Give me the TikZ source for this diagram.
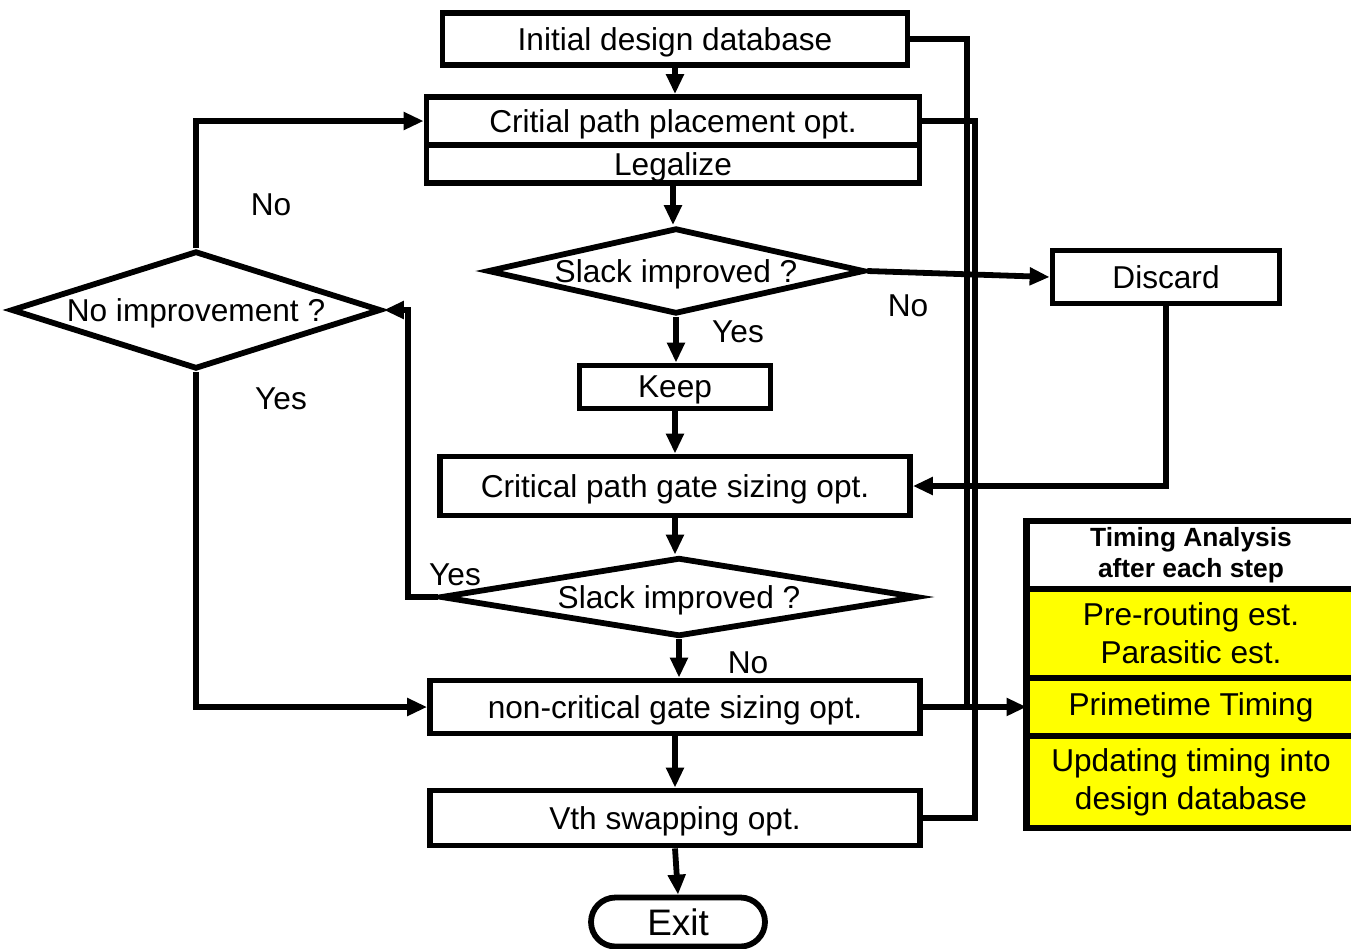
\documentclass[tikz,border=0pt]{standalone}
\usepackage{fontspec}
\setmainfont{Liberation Sans}
\usepackage{xcolor}
\usepackage{tikz}
\usetikzlibrary{arrows.meta, positioning, shapes.geometric, shapes.misc}
\definecolor{clrYellow}{HTML}{FFFF00}
\definecolor{clrLine}{HTML}{000000}
\tikzset{
  flow box/.style={rectangle, draw=clrLine, line width=3.3pt, fill=white, inner sep=0pt, text depth=0pt, font=\fontsize{18}{21}\selectfont},
  flow test/.style={diamond, draw=clrLine, line width=3.3pt, fill=white, inner sep=0pt, text depth=0pt, font=\fontsize{18}{21}\selectfont},
  flow end/.style={rounded rectangle, draw=clrLine, line width=3.3pt, fill=white, inner sep=0pt, text depth=0pt, font=\fontsize{21}{24}\selectfont},
  ta head/.style={rectangle, draw=clrLine, line width=3.6pt, fill=white, minimum width=6.58cm, outer sep=0pt, align=center, font=\bfseries\fontsize{15}{18}\selectfont},
  ta step/.style={ta head, fill=clrYellow, font=\fontsize{18}{21.6}\selectfont},
  flow label/.style={font=\fontsize{18}{21}\selectfont},
  arr/.style={-{Triangle[length=0.4cm, width=0.34cm]}, line width=3.3pt},
  wire/.style={line width=3.3pt},
}

\begin{document}
\begin{tikzpicture}[x=0.02cm, y=-0.02cm]
  \useasboundingbox (0,0) rectangle (1351,948);

  % Main flow
  \node[flow box, minimum width=9.3cm, minimum height=1.04cm] (init) at (675,39) {Initial design database};
  \node[flow box, minimum width=9.86cm, minimum height=0.96cm] (place) at (673,121) {Critial path placement opt.};
  \node[flow box, minimum width=9.86cm, minimum height=0.76cm] (legal) at (673,164) {Legalize};
  \node[flow test, aspect=4.3, minimum width=7.54cm, minimum height=1.72cm] (slackA) at (676,271) {Slack improved ?};
  \node[flow box, minimum width=4.54cm, minimum height=1.06cm] (discard) at (1166,277) {Discard};
  \node[flow box, minimum width=3.82cm, minimum height=0.86cm] (keep) at (675,387) {Keep};
  \node[flow box, minimum width=9.4cm, minimum height=1.18cm] (gsize) at (675,486) {Critical path gate sizing opt.};
  \node[flow test, aspect=7.5, minimum width=9.54cm, minimum height=1.58cm] (slackB) at (679,597) {Slack improved ?};
  \node[flow box, minimum width=9.8cm, minimum height=1.06cm] (ncgs) at (675,707) {non-critical gate sizing opt.};
  \node[flow box, minimum width=9.8cm, minimum height=1.1cm] (vth) at (675,818) {Vth swapping opt.};
  \node[flow end, minimum width=3.48cm, minimum height=0.98cm] (exit) at (678,922) {Exit};
  \node[flow test, aspect=3.6, minimum width=7.4cm, minimum height=2.36cm] (noimp) at (196,310) {No improvement ?};

  % Timing analysis
  \node[ta head, minimum height=1.32cm] (tahead) at (1191,555) {Timing Analysis\\after each step};
  \node[ta step, minimum height=1.78cm, below=0pt of tahead] (tapre) {Pre-routing est.\\Parasitic est.};
  \node[ta step, minimum height=1.16cm, below=0pt of tapre] (taprime) {Primetime Timing};
  \node[ta step, minimum height=1.84cm, below=0pt of taprime] (taupd) {Updating timing into\\design database};

  % Labels
  \node[flow label] (noA) at (271,205) {No};
  \node[flow label] (yesA) at (281,399) {Yes};
  \node[flow label] (yesB) at (738,332) {Yes};
  \node[flow label] (noB) at (908,306) {No};
  \node[flow label] (yesC) at (455,575) {Yes};
  \node[flow label] (noC) at (748,663) {No};

  % Transitions
  \draw[arr] (init.south) -- (init.south |- place.north);
  \draw[arr] (legal.south) -- (legal.south |- slackA.north);
  \draw[arr] (slackA.south) -- (slackA.south |- keep.north);
  \draw[arr] (keep.south) -- (keep.south |- gsize.north);
  \draw[arr] (gsize.south) -- (gsize.south |- slackB.north);
  \draw[arr] (slackB.south) -- (slackB.south |- ncgs.north);
  \draw[arr] (ncgs.south) -- (ncgs.south |- vth.north);
  \draw[arr] (vth.south) -- (exit.north);
  \draw[arr] (slackA.east) -- (discard.west);
  \draw[arr] (discard.south) |- (gsize.east);
  \coordinate (yesturn) at (408,310);
  \draw[arr] (slackB.west) -| (yesturn) -- (noimp.east);
  \draw[arr] (noimp.north) |- (place.west);
  \draw[arr] (noimp.south) |- (ncgs.west);

  % Timing bus
  \coordinate (busA) at (967,707);
  \coordinate (busB) at (975,818);
  \draw[wire] (init.east) -| (busA);
  \draw[wire] (place.east) -| (busB) -- (vth.east);
  \draw[arr] (ncgs.east) -- (taprime.west);
\end{tikzpicture}
\end{document}
